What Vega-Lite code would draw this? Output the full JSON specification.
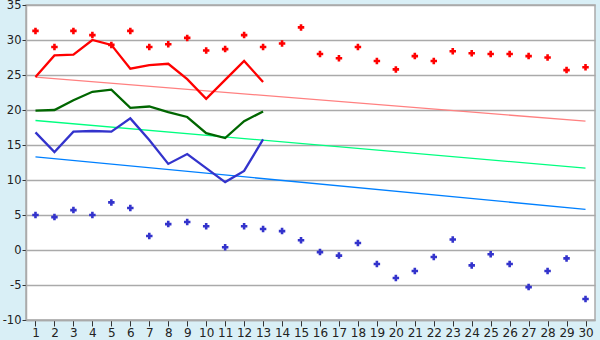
{
  "$schema": "https://vega.github.io/schema/vega-lite/v6.json",
  "width": 569,
  "height": 315,
  "autosize": "none",
  "padding": {"left": 26, "top": 5, "right": 5, "bottom": 20},
  "background": "#d9eff6",
  "view": {"fill": "white", "stroke": "#aaaaaa", "strokeWidth": 1.5},
  "config": {
    "font": "DejaVu Sans",
    "axis": {"labelFont": "DejaVu Sans", "labelFontSize": 12, "labelColor": "#222222", "domainColor": "#aaaaaa", "domainWidth": 1.5, "tickColor": "#333333", "title": null}
  },
  "datasets": {
    "pts": [
      {"day":1,"s":"maxrec","v":31.3},{"day":2,"s":"maxrec","v":29.0},{"day":3,"s":"maxrec","v":31.3},{"day":4,"s":"maxrec","v":30.7},{"day":5,"s":"maxrec","v":29.3},{"day":6,"s":"maxrec","v":31.3},{"day":7,"s":"maxrec","v":29.0},{"day":8,"s":"maxrec","v":29.4},{"day":9,"s":"maxrec","v":30.3},{"day":10,"s":"maxrec","v":28.5},{"day":11,"s":"maxrec","v":28.7},{"day":12,"s":"maxrec","v":30.7},{"day":13,"s":"maxrec","v":29.0},{"day":14,"s":"maxrec","v":29.5},{"day":15,"s":"maxrec","v":31.8},{"day":16,"s":"maxrec","v":28.0},{"day":17,"s":"maxrec","v":27.4},{"day":18,"s":"maxrec","v":29.0},{"day":19,"s":"maxrec","v":27.0},{"day":20,"s":"maxrec","v":25.8},{"day":21,"s":"maxrec","v":27.7},{"day":22,"s":"maxrec","v":27.0},{"day":23,"s":"maxrec","v":28.4},{"day":24,"s":"maxrec","v":28.1},{"day":25,"s":"maxrec","v":28.0},{"day":26,"s":"maxrec","v":28.0},{"day":27,"s":"maxrec","v":27.7},{"day":28,"s":"maxrec","v":27.5},{"day":29,"s":"maxrec","v":25.7},{"day":30,"s":"maxrec","v":26.1},
      {"day":1,"s":"minrec","v":5.0},{"day":2,"s":"minrec","v":4.7},{"day":3,"s":"minrec","v":5.7},{"day":4,"s":"minrec","v":5.0},{"day":5,"s":"minrec","v":6.8},{"day":6,"s":"minrec","v":6.0},{"day":7,"s":"minrec","v":2.0},{"day":8,"s":"minrec","v":3.7},{"day":9,"s":"minrec","v":4.0},{"day":10,"s":"minrec","v":3.4},{"day":11,"s":"minrec","v":0.4},{"day":12,"s":"minrec","v":3.4},{"day":13,"s":"minrec","v":3.0},{"day":14,"s":"minrec","v":2.7},{"day":15,"s":"minrec","v":1.4},{"day":16,"s":"minrec","v":-0.3},{"day":17,"s":"minrec","v":-0.8},{"day":18,"s":"minrec","v":1.0},{"day":19,"s":"minrec","v":-2.0},{"day":20,"s":"minrec","v":-4.0},{"day":21,"s":"minrec","v":-3.0},{"day":22,"s":"minrec","v":-1.0},{"day":23,"s":"minrec","v":1.5},{"day":24,"s":"minrec","v":-2.2},{"day":25,"s":"minrec","v":-0.6},{"day":26,"s":"minrec","v":-2.0},{"day":27,"s":"minrec","v":-5.3},{"day":28,"s":"minrec","v":-3.0},{"day":29,"s":"minrec","v":-1.2},{"day":30,"s":"minrec","v":-7.0}
    ],
    "lines": [
      {"day":1,"s":"max","v":24.7},{"day":2,"s":"max","v":27.8},{"day":3,"s":"max","v":27.9},{"day":4,"s":"max","v":30.0},{"day":5,"s":"max","v":29.3},{"day":6,"s":"max","v":25.9},{"day":7,"s":"max","v":26.4},{"day":8,"s":"max","v":26.6},{"day":9,"s":"max","v":24.4},{"day":10,"s":"max","v":21.6},{"day":11,"s":"max","v":24.3},{"day":12,"s":"max","v":27.0},{"day":13,"s":"max","v":24.0},
      {"day":1,"s":"avg","v":19.9},{"day":2,"s":"avg","v":20.0},{"day":3,"s":"avg","v":21.4},{"day":4,"s":"avg","v":22.6},{"day":5,"s":"avg","v":22.9},{"day":6,"s":"avg","v":20.3},{"day":7,"s":"avg","v":20.5},{"day":8,"s":"avg","v":19.7},{"day":9,"s":"avg","v":19.0},{"day":10,"s":"avg","v":16.7},{"day":11,"s":"avg","v":16.0},{"day":12,"s":"avg","v":18.4},{"day":13,"s":"avg","v":19.8},
      {"day":1,"s":"min","v":16.8},{"day":2,"s":"min","v":14.0},{"day":3,"s":"min","v":16.9},{"day":4,"s":"min","v":17.0},{"day":5,"s":"min","v":16.9},{"day":6,"s":"min","v":18.8},{"day":7,"s":"min","v":15.7},{"day":8,"s":"min","v":12.3},{"day":9,"s":"min","v":13.7},{"day":10,"s":"min","v":11.7},{"day":11,"s":"min","v":9.7},{"day":12,"s":"min","v":11.3},{"day":13,"s":"min","v":15.8}
    ],
    "trends": [
      {"day":1,"s":"tmax","v":24.7},{"day":30,"s":"tmax","v":18.4},
      {"day":1,"s":"tavg","v":18.5},{"day":30,"s":"tavg","v":11.7},
      {"day":1,"s":"tmin","v":13.3},{"day":30,"s":"tmin","v":5.8}
    ]
  },
  "encoding": {
    "x": {"field": "day", "type": "quantitative", "scale": {"domain": [0.5, 30.5], "nice": false, "zero": false},
      "axis": {"values": [1,2,3,4,5,6,7,8,9,10,11,12,13,14,15,16,17,18,19,20,21,22,23,24,25,26,27,28,29,30], "grid": false, "tickSize": 6, "labelPadding": 1, "labelFlush": false}},
    "y": {"field": "v", "type": "quantitative", "scale": {"domain": [-10, 35], "nice": false, "zero": false},
      "axis": {"values": [-10,-5,0,5,10,15,20,25,30,35], "grid": true, "gridColor": "#aaaaaa", "gridWidth": 1.5, "tickSize": 4, "labelPadding": 1, "labelFontSize": 11.5, "labelExpr": "replace(datum.label, '\u2212', '-')"}},
    "color": {"field": "s", "type": "nominal", "legend": null,
      "scale": {"domain": ["maxrec","minrec","max","avg","min","tmax","tavg","tmin"], "range": ["#ff0000","#3333cc","#ff0000","#006600","#3333cc","#ff8080","#00ff80","#0080ff"]}}
  },
  "layer": [
    {"data": {"name": "trends"}, "mark": {"type": "line", "strokeWidth": 1.3}, "encoding": {"detail": {"field": "s"}}},
    {"data": {"name": "lines"}, "mark": {"type": "line", "strokeWidth": 2.3}, "encoding": {"detail": {"field": "s"}}},
    {"data": {"name": "pts"}, "mark": {"type": "point", "shape": "cross", "filled": true, "size": 42, "opacity": 1}}
  ]
}
